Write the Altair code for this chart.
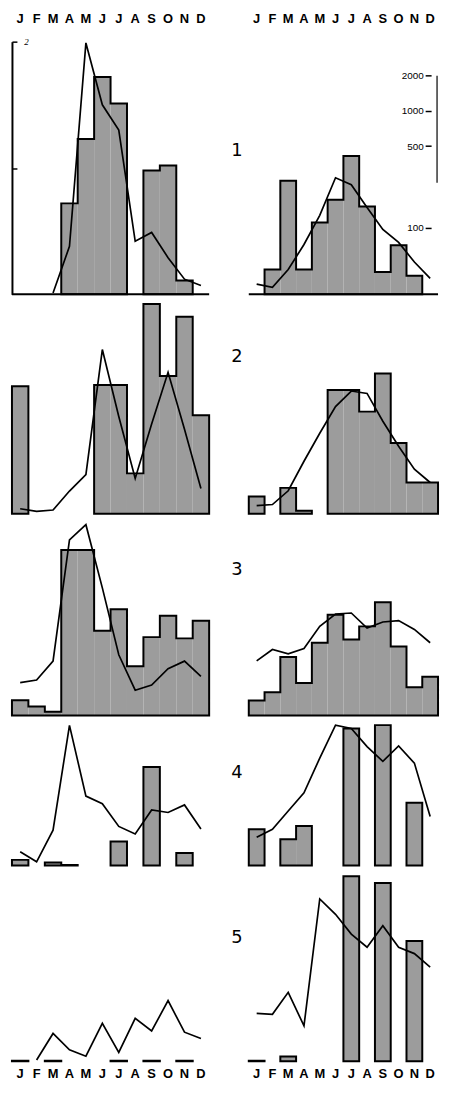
import altair as alt
import pandas as pd

MONTH_LETTERS = ["J", "F", "M", "A", "M", "J", "J", "A", "S", "O", "N", "D"]
MONTHS = list(range(1, 13))

# ---- left column (linear units) : bars (stippled histogram) and curve ----
L1_BARS = [None, None, None, 0.72, 1.23, 1.72, 1.51, None, 0.98, 1.02, 0.11, None]
L1_LINE = [None, None, 0.01, 0.38, 1.99, 1.50, 1.30, 0.42, 0.49, 0.29, 0.12, 0.07]
L2_BARS = [1.01, None, None, None, None, 1.02, 1.02, 0.32, 1.66, 1.09, 1.56, 0.78]
L2_LINE = [0.04, 0.02, 0.03, 0.18, 0.31, 1.30, 0.77, 0.28, 0.71, 1.12, 0.67, 0.20]
L3_BARS = [0.12, 0.07, 0.03, 1.31, 1.31, 0.67, 0.84, 0.39, 0.62, 0.79, 0.61, 0.75]
L3_LINE = [0.26, 0.28, 0.43, 1.39, 1.51, 1.01, 0.48, 0.20, 0.24, 0.37, 0.43, 0.31]
L4_BARS = [0.045, None, 0.025, 0.004, None, None, 0.19, None, 0.78, None, 0.10, None]
L4_LINE = [0.11, 0.03, 0.28, 1.11, 0.55, 0.49, 0.31, 0.25, 0.44, 0.42, 0.48, 0.29]
L5_BARS = [0.005, None, 0.005, None, None, None, 0.005, None, 0.005, None, 0.005, None]
L5_LINE = [None, 0.01, 0.22, 0.09, 0.04, 0.30, 0.07, 0.34, 0.24, 0.48, 0.23, 0.18]

# ---- right column (log units) ----
R1_BARS = [None, 44, 253, 44, 111, 174, 411, 152, 42, 71, 39, None]
R1_LINE = [33, 31, 44, 72, 128, 268, 234, 149, 97, 75, 51, 37]
R2_BARS = [38, None, 45, 28.7, None, 309, 309, 202, 428, 109, 50, 50]
R2_LINE = [31.7, 32.4, 42.5, 76, 132, 223, 303, 289, 167, 102, 65, 50]
R3_BARS = [36.2, 42.7, 85.4, 51.1, 113, 196, 120.5, 156, 251, 105, 47.1, 57.8]
R3_LINE = [79, 99, 91, 101, 156, 199, 203, 151, 170, 175, 147, 113]
R4_BARS = [55.2, None, 45.4, 58.9, None, None, 402, None, 429, None, 93.1, None]
R4_LINE = [47.1, 55.2, 79, 113, 224, 429, 402, 281, 210, 285, 203, 71]
R5_BARS = [27.3, None, 29.7, None, None, None, 1031, None, 903, None, 289, None]
R5_LINE = [69.4, 68, 105, 54.2, 660, 488, 330, 255, 389, 255, 225, 172]

ROW_LABELS = ["1", "2", "3", "4", "5"]
LOG_TICKS = [100, 500, 1000, 2000]

# ---- layout constants ----
ROW_HEIGHTS = [255, 212, 194, 142, 188]
ROW_LABEL_Y = [110, 54, 47, 49, 64]
LEFT_W = 199
RIGHT_W = 191
COL_GAP = 40
ROW_GAP = 9.5
TOP_LABEL_Y = -23
BOTTOM_LABEL_GAP = 13
LEFT_PX_PER_UNIT = 127.5
RIGHT_PX_PER_DECADE = 118.0
RIGHT_BASE = 27.0
FILL = "#9c9c9c"


def outline_rows(bars, base):
    rows = []
    run = 0
    order = 0
    i = 0
    while i < 12:
        if bars[i] is None:
            i += 1
            continue
        j = i
        while j + 1 < 12 and bars[j + 1] is not None:
            j += 1
        pts = [(i + 0.5, base)]
        for k in range(i, j + 1):
            pts.append((k + 0.5, bars[k]))
            pts.append((k + 1.5, bars[k]))
        pts.append((j + 1.5, base))
        pts.append((i + 0.5, base))
        for p in pts:
            rows.append({"m": p[0], "v": p[1], "run": run, "o": order})
            order += 1
        run += 1
        i = j + 1
    return pd.DataFrame(rows)


def panel(bars, curve, row, side):
    h = ROW_HEIGHTS[row]
    w = LEFT_W if side == "L" else RIGHT_W
    if side == "L":
        base = 0.0
        ys = alt.Scale(domain=[0, h / LEFT_PX_PER_UNIT], nice=False, zero=False)
    else:
        base = RIGHT_BASE
        ys = alt.Scale(type="log", domain=[RIGHT_BASE, RIGHT_BASE * 10 ** (h / RIGHT_PX_PER_DECADE)],
                       nice=False)
    xs = alt.Scale(domain=[0.5, 12.5], nice=False, zero=False)

    yaxis = None
    if row == 0 and side == "L":
        yaxis = alt.Axis(orient="right", offset=-w, values=[1, 2], tickSize=5, tickWidth=1.5,
                         tickColor="black", domain=True, domainColor="black", domainWidth=2,
                         grid=False, labelExpr="datum.value == 2 ? '2' : ''", labelFontSize=9,
                         labelFontStyle="italic", labelFont="Liberation Serif", labelPadding=7,
                         labelColor="black", title=None, labelFlush=False, labelOverlap=False)
    if row == 0 and side == "R":
        yaxis = alt.Axis(orient="left", offset=-184, values=LOG_TICKS, format="d", tickSize=6,
                         tickWidth=1.5, tickColor="black", domain=False, grid=False,
                         labelFontSize=10, labelFont="Liberation Sans", labelPadding=2,
                         labelColor="black", title=None, labelFlush=False, labelOverlap=False)

    X = alt.X("m:Q", scale=xs, axis=None)
    Y = alt.Y("v:Q", scale=ys, axis=yaxis)

    rect_df = pd.DataFrame([{"m": i + 0.5, "m2": i + 1.5, "v": b, "v0": base}
                            for i, b in enumerate(bars) if b is not None])
    line_df = pd.DataFrame([{"m": i + 1, "v": c} for i, c in enumerate(curve) if c is not None])
    out_df = outline_rows(bars, base)

    layers = [
        alt.Chart(rect_df).mark_rect(fill=FILL).encode(x=X, x2="m2:Q", y=Y, y2="v0:Q"),
        alt.Chart(out_df).mark_line(color="black", strokeWidth=2, strokeCap="square",
                                    strokeJoin="miter").encode(
            x=X, y=Y, detail="run:N", order="o:Q"),
        alt.Chart(line_df).mark_line(color="black", strokeWidth=1.7).encode(x=X, y=Y),
    ]
    if row == 0:
        base_df = pd.DataFrame({"m": [0.5], "m2": [12.5], "v": [base]})
        layers.append(alt.Chart(base_df).mark_rule(color="black", strokeWidth=2).encode(
            x=X, x2="m2:Q", y=Y))
    if row in (0, 4):
        mdf = pd.DataFrame({"m": MONTHS, "t": MONTH_LETTERS})
        ypix = TOP_LABEL_Y if row == 0 else h + BOTTOM_LABEL_GAP
        layers.append(alt.Chart(mdf).mark_text(fontSize=13, font="Liberation Sans",
                                               fontWeight="bold", color="black",
                                               align="center", baseline="middle").encode(
            x=X, y=alt.value(ypix), text="t:N"))
    if row == 0 and side == "R":
        edge_df = pd.DataFrame({"v": [2000], "v2": [243]})
        layers.append(alt.Chart(edge_df).mark_rule(color="black", strokeWidth=1.2).encode(
            x=alt.value(w - 1), y=Y, y2="v2:Q"))
    if side == "R":
        lab_df = pd.DataFrame({"t": [ROW_LABELS[row]]})
        layers.append(alt.Chart(lab_df).mark_text(fontSize=18, font="DejaVu Sans", color="black",
                                                  align="center", baseline="middle").encode(
            text="t:N", x=alt.value(-12), y=alt.value(ROW_LABEL_Y[row])))
    return alt.layer(*layers).properties(width=w, height=h)


LEFT = [(L1_BARS, L1_LINE), (L2_BARS, L2_LINE), (L3_BARS, L3_LINE), (L4_BARS, L4_LINE), (L5_BARS, L5_LINE)]
RIGHT = [(R1_BARS, R1_LINE), (R2_BARS, R2_LINE), (R3_BARS, R3_LINE), (R4_BARS, R4_LINE), (R5_BARS, R5_LINE)]

panels = []
for r in range(5):
    panels.append(panel(LEFT[r][0], LEFT[r][1], r, "L"))
    panels.append(panel(RIGHT[r][0], RIGHT[r][1], r, "R"))

chart = alt.concat(*panels, columns=2, spacing={"row": ROW_GAP, "column": COL_GAP},
                   bounds="flush").properties(
    padding=0, background="white"
).configure_view(stroke=None)

chart.save("out.html", embed_options={"renderer": "svg", "actions": False})
